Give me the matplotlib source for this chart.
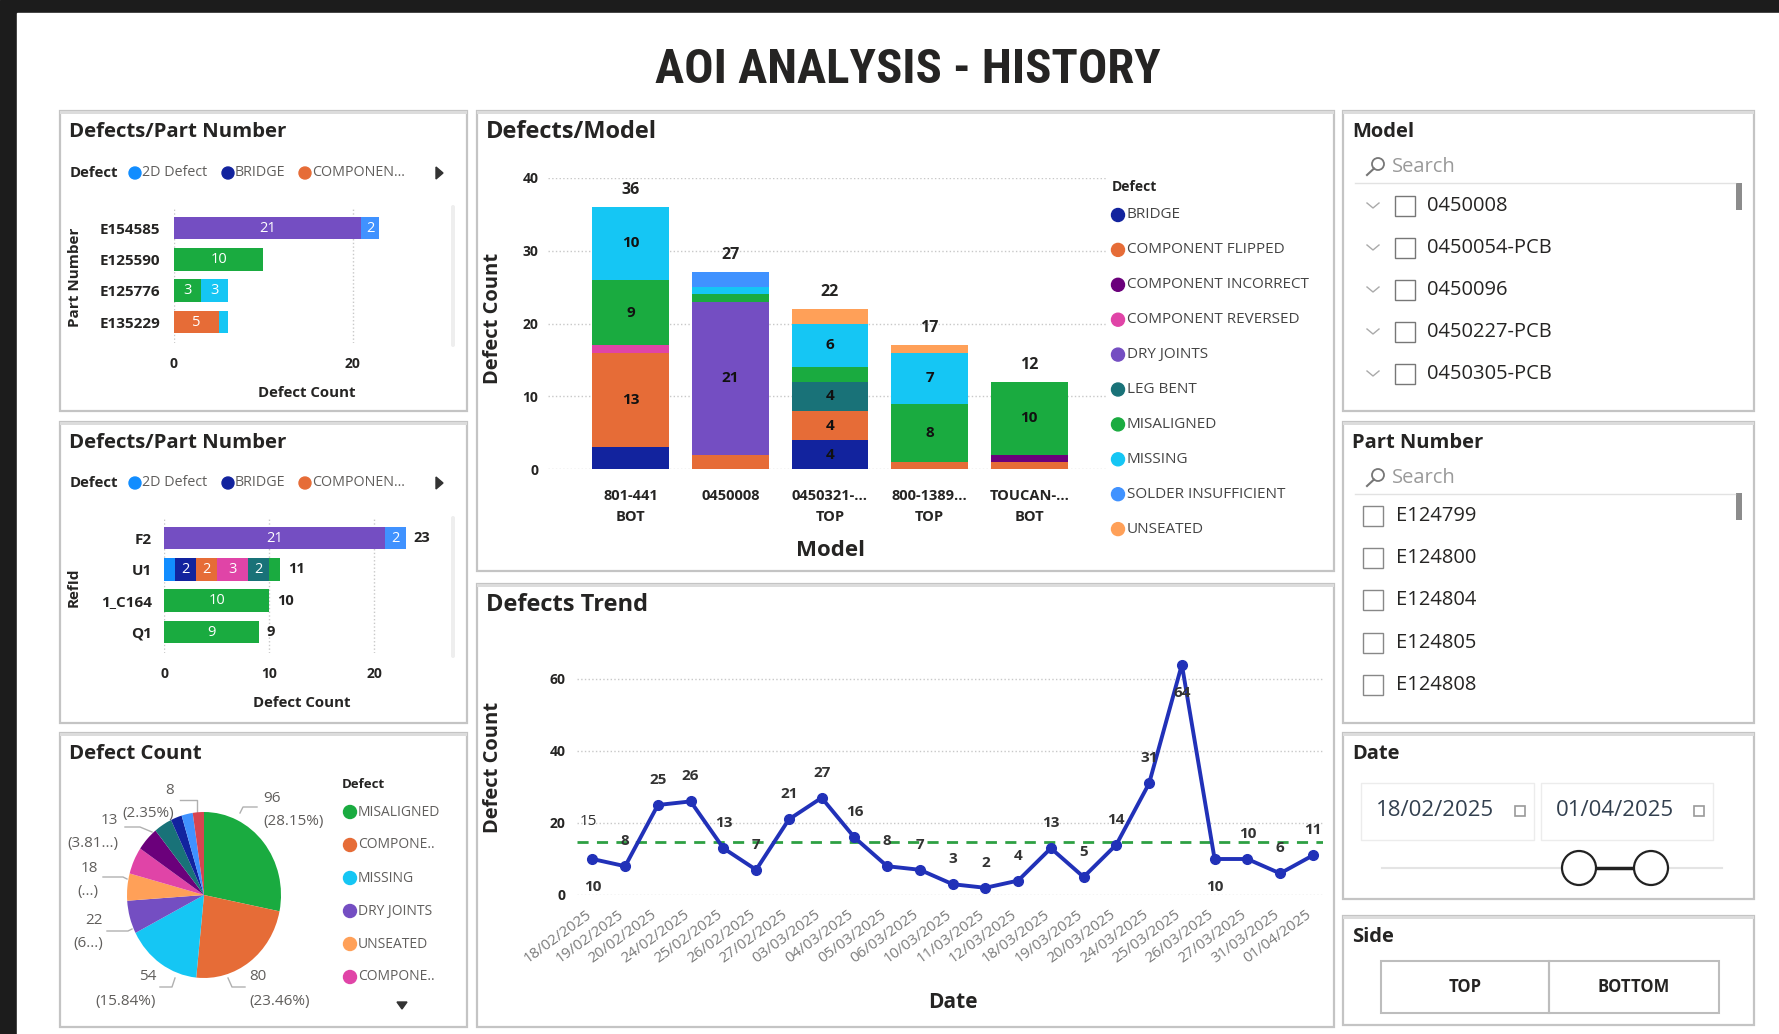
import numpy as np
import matplotlib
matplotlib.use("Agg")
import matplotlib.pyplot as plt
from matplotlib import font_manager as fm
from matplotlib.patches import Rectangle, Circle, Polygon, FancyBboxPatch
from matplotlib.transforms import ScaledTranslation

W, H = 1779, 1034
DPI = 100
plt.rcParams['font.family'] = ['Open Sans', 'DejaVu Sans']

# ---------------- data ----------------
title_text = "AOI ANALYSIS - HISTORY"

defect_names = ["BRIDGE", "COMPONENT FLIPPED", "COMPONENT INCORRECT", "COMPONENT REVERSED",
                "DRY JOINTS", "LEG BENT", "MISALIGNED", "MISSING", "SOLDER INSUFFICIENT", "UNSEATED"]
defect_colors = ["#12239E", "#E66C37", "#6B007B", "#E044A7", "#744EC2",
                 "#197278", "#1AAB40", "#15C6F4", "#4092FF", "#FFA058"]
color_2d = "#118DFF"

# Defects / Model (stacked columns)
models = ["801-441\nBOT", "0450008", "0450321-...\nTOP", "800-1389...\nTOP", "TOUCAN-...\nBOT"]
bridge_by_model = [3, 0, 4, 0, 0]
flipped_by_model = [13, 2, 4, 1, 1]
incorrect_by_model = [0, 0, 0, 0, 1]
reversed_by_model = [1, 0, 0, 0, 0]
dry_by_model = [0, 21, 0, 0, 0]
legbent_by_model = [0, 0, 4, 0, 0]
misaligned_by_model = [9, 1, 2, 8, 10]
missing_by_model = [10, 1, 6, 7, 0]
solder_by_model = [0, 2, 0, 0, 0]
unseated_by_model = [0, 0, 2, 1, 0]

# Defects / Part Number (panel 1)
part_numbers = ["E154585", "E125590", "E125776", "E135229"]
part_flipped = [0, 0, 0, 5]
part_dry = [21, 0, 0, 0]
part_misaligned = [0, 10, 3, 0]
part_missing = [0, 0, 3, 1]
part_solder = [2, 0, 0, 0]

# Defects / RefId (panel 2)
refids = ["F2", "U1", "1_C164", "Q1"]
ref_2d = [0, 1, 0, 0]
ref_bridge = [0, 2, 0, 0]
ref_flipped = [0, 2, 0, 0]
ref_reversed = [0, 3, 0, 0]
ref_dry = [21, 0, 0, 0]
ref_legbent = [0, 2, 0, 0]
ref_misaligned = [0, 1, 10, 9]
ref_solder = [2, 0, 0, 0]

# Pie: Defect Count
pie_defects = ["MISALIGNED", "COMPONENT FLIPPED", "MISSING", "DRY JOINTS", "UNSEATED",
               "COMPONENT REVERSED", "COMPONENT INCORRECT", "LEG BENT", "BRIDGE",
               "SOLDER INSUFFICIENT", "OTHER"]
pie_values = [96, 80, 54, 22, 18, 18, 16, 13, 8, 8, 8]
pie_colors = ["#1AAB40", "#E66C37", "#15C6F4", "#744EC2", "#FFA058", "#E044A7",
              "#6B007B", "#197278", "#12239E", "#4092FF", "#D64550"]
pie_legend_names = ["MISALIGNED", "COMPONE..", "MISSING", "DRY JOINTS", "UNSEATED", "COMPONE.."]

# Defects trend
trend_dates = ["18/02/2025", "19/02/2025", "20/02/2025", "24/02/2025", "25/02/2025", "26/02/2025",
               "27/02/2025", "03/03/2025", "04/03/2025", "05/03/2025", "06/03/2025", "10/03/2025",
               "11/03/2025", "12/03/2025", "18/03/2025", "19/03/2025", "20/03/2025", "24/03/2025",
               "25/03/2025", "26/03/2025", "27/03/2025", "31/03/2025", "01/04/2025"]
trend_counts = [10, 8, 25, 26, 13, 7, 21, 27, 16, 8, 7, 3, 2, 4, 13, 5, 14, 31, 64, 10, 10, 6, 11]

# Slicers
model_items = ["0450008", "0450054-PCB", "0450096", "0450227-PCB", "0450305-PCB"]
part_items = ["E124799", "E124800", "E124804", "E124805", "E124808"]
date_from = "18/02/2025"
date_to = "01/04/2025"
side_buttons = ["TOP", "BOTTOM"]

# ---------------- figure ----------------
fig = plt.figure(figsize=(W / DPI, H / DPI), dpi=DPI)
bg = fig.add_axes([0, 0, 1, 1])
bg.set_xlim(0, W)
bg.set_ylim(H, 0)
bg.axis('off')
bg.set_zorder(0)

DARK = "#252423"
GRAY = "#605E5C"

bg.add_patch(Rectangle((0, 0), W, H, color="#1c1c1c"))
bg.add_patch(Rectangle((17, 13), W - 17, H - 13, color="white"))


def T(x, y, s, **kw):
    kw.setdefault('color', DARK)
    kw.setdefault('va', 'center')
    return bg.text(x, y, s, **kw)


def ax_px(l, t, r, b):
    ax = fig.add_axes([l / W, 1 - b / H, (r - l) / W, (b - t) / H])
    ax.set_facecolor('none')
    for s in ax.spines.values():
        s.set_visible(False)
    ax.tick_params(length=0)
    ax.set_zorder(2)
    return ax


def panel(x0, y0, x1, y1, title, size=14.7):
    bg.add_patch(Rectangle((x0, y0), x1 - x0, y1 - y0, fill=False, ec="#c4c4c4", lw=1.6))
    bg.add_patch(Rectangle((x0, y0), x1 - x0, 3, color="#dcdcdc", lw=0))
    T(x0 + 9, y0 + 21, title, fontsize=size, fontweight='bold', ha='left')


# ---- Title with a condensed bold face if one is installed ----
def condensed_bold():
    best = None
    prefs = ['liberation sans narrow', 'roboto condensed', 'dejavu sans', 'open sans', 'noto sans']
    for f in fm.fontManager.ttflist:
        key = (f.name + ' ' + f.fname).lower()
        if not any(k in key for k in ('narrow', 'condensed')):
            continue
        w = f.weight if isinstance(f.weight, int) else (700 if 'bold' in str(f.weight) else 400)
        if w < 600 or 'italic' in key or 'oblique' in key:
            continue
        rank = next((i for i, p in enumerate(prefs) if f.name.lower().startswith(p)), 99)
        if best is None or rank < best[0]:
            best = (rank, f.fname)
    return best[1] if best else None


cfont = condensed_bold()
if cfont:
    tprops = fm.FontProperties(fname=cfont, size=36)
else:
    tprops = fm.FontProperties(family=['DejaVu Sans'], weight='bold', size=36)
ttl = T(908, 70, title_text, fontproperties=tprops, ha='center')
fig.canvas.draw()
tw = ttl.get_window_extent().width
tprops.set_size(36 * 505.0 / tw)
ttl.set_fontproperties(tprops)

# panels
panel(60, 111, 467, 411, "Defects/Part Number")
panel(60, 422, 467, 723, "Defects/Part Number")
panel(60, 733, 467, 1027, "Defect Count")
panel(477, 111, 1334, 571, "Defects/Model", size=17)
panel(477, 584, 1334, 1027, "Defects Trend", size=17)
panel(1343, 111, 1754, 411, "Model", size=14.5)
panel(1343, 422, 1754, 723, "Part Number", size=14.5)
panel(1343, 733, 1754, 899, "Date", size=14.5)
panel(1343, 916, 1754, 1025, "Side", size=14.5)


def legend_strip(y):
    T(70, y, "Defect", fontsize=10.8, fontweight='bold', ha='left')
    items = [(135, "2D Defect", color_2d), (228, "BRIDGE", "#12239E"), (305, "COMPONEN...", "#E66C37")]
    for cx, lab, col in items:
        bg.add_patch(Circle((cx, y), 6, color=col))
        T(cx + 7, y, lab, fontsize=10.3, color=GRAY, ha='left')
    bg.add_patch(Polygon([[436, y - 6], [436, y + 6], [443, y]], closed=True, color="#333333"))


def hbars(ax, labels, stacks, totals=False):
    y = np.arange(len(labels))
    left = np.zeros(len(labels))
    for vals, col in stacks:
        vals = np.array(vals, dtype=float)
        ax.barh(y, vals, left=left, color=col, height=0.72, zorder=3)
        for i, v in enumerate(vals):
            if v >= 2:
                ax.text(left[i] + v / 2, i, f"{int(v)}", color='white', ha='center', va='center',
                        fontsize=10.5, zorder=4)
        left += vals
    if totals:
        for i, t in enumerate(left):
            ax.annotate(f"{int(t)}", (t, i), xytext=(8, 0), textcoords='offset pixels',
                        ha='left', va='center', fontsize=10.5, fontweight='bold', color=DARK)
    ax.set_yticks(y)
    ax.set_yticklabels(labels, fontsize=11, fontweight='bold', color=DARK)
    ax.set_ylim(len(labels) - 0.33, -0.64)
    ax.set_axisbelow(True)
    ax.grid(axis='x', ls=':', color='#c8c8c8', lw=1)
    ax.grid(axis='y', visible=False)


# ---- Panel 1 ----
legend_strip(173)
ax1 = ax_px(174, 208, 390, 343)
hbars(ax1, part_numbers, [(part_flipped, defect_colors[1]), (part_dry, defect_colors[4]),
                          (part_misaligned, defect_colors[6]), (part_missing, defect_colors[7]),
                          (part_solder, defect_colors[8])])
ax1.set_xlim(0, 24.2)
ax1.set_xticks([0, 20])
ax1.tick_params(axis='x', pad=10, labelsize=10, labelcolor=DARK)
for lb in ax1.get_xticklabels():
    lb.set_fontweight('bold')
ax1.tick_params(axis='y', pad=10)
T(75, 277, "Part Number", fontsize=11, fontweight='bold', rotation=90, ha='center')
T(307, 393, "Defect Count", fontsize=10.8, fontweight='bold', ha='center')
bg.add_patch(FancyBboxPatch((451, 205), 4, 142, boxstyle="round,pad=0,rounding_size=2", color="#eeeeee", lw=0))

# ---- Panel 2 ----
legend_strip(483)
ax2 = ax_px(164.3, 518, 410, 653)
hbars(ax2, refids, [(ref_2d, color_2d), (ref_bridge, defect_colors[0]), (ref_flipped, defect_colors[1]),
                    (ref_reversed, defect_colors[3]), (ref_dry, defect_colors[4]),
                    (ref_legbent, defect_colors[5]), (ref_misaligned, defect_colors[6]),
                    (ref_solder, defect_colors[8])], totals=True)
ax2.set_xlim(0, 23.4)
ax2.set_xticks([0, 10, 20])
ax2.tick_params(axis='x', pad=10, labelsize=10, labelcolor=DARK)
for lb in ax2.get_xticklabels():
    lb.set_fontweight('bold')
ax2.tick_params(axis='y', pad=9)
T(74, 587, "RefId", fontsize=11, fontweight='bold', rotation=90, ha='center')
T(302, 703, "Defect Count", fontsize=10.8, fontweight='bold', ha='center')
bg.add_patch(FancyBboxPatch((451, 516), 4, 142, boxstyle="round,pad=0,rounding_size=2", color="#eeeeee", lw=0))

# ---- Pie ----
axp = ax_px(127, 812, 281, 978)
axp.pie(pie_values, colors=pie_colors, startangle=90, counterclock=False, radius=1,
        wedgeprops=dict(linewidth=0))
axp.set_aspect('auto')
axp.set_xlim(-1, 1)
axp.set_ylim(-1, 1)
total = sum(pie_values)
# (label index, x, y, align, truncation, leader polyline)
pie_label_layout = [
    (0, 263, 798, 'left', None, [(240, 813), (243, 807), (257, 807)]),
    (1, 249, 977, 'left', None, [(228, 978), (232, 987), (245, 987)]),
    (2, 156, 977, 'right', None, [(175, 978), (172, 987), (160, 987)]),
    (3, 103, 920, 'right', 2, [(132, 929), (128, 931), (107, 931)]),
    (4, 98, 868, 'right', 1, [(127, 879), (123, 877), (103, 877)]),
    (7, 118, 820, 'right', 5, [(152, 832), (140, 827), (125, 827)]),
    (10, 174, 790, 'right', None, [(197, 812), (197, 800), (180, 800)]),
]
for idx, lx, ly, al, trunc, leader in pie_label_layout:
    v = pie_values[idx]
    pct = f"({v / total * 100:.2f}%)"
    if trunc is not None:
        pct = pct[:trunc] + "...)"
    T(lx, ly, f"{v}", fontsize=11, color=GRAY, ha=al)
    T(lx, ly + 24, pct, fontsize=11, color=GRAY, ha=al)
    xs, ys = zip(*leader)
    bg.plot(xs, ys, color="#b0b0b0", lw=1)
T(342, 785, "Defect", fontsize=9.5, fontweight='bold', ha='left')
for i, name in enumerate(pie_legend_names):
    yy = 812 + i * 33
    bg.add_patch(Circle((350, yy), 6.5, color=pie_colors[i]))
    T(358, yy, name, fontsize=10, color=GRAY, ha='left')
bg.add_patch(Polygon([[397, 1002], [407, 1002], [402, 1009]], closed=True, color="#333333"))

# ---- Defects / Model ----
axm = ax_px(548, 177.7, 1107, 469.3)
by_model = [bridge_by_model, flipped_by_model, incorrect_by_model, reversed_by_model, dry_by_model,
            legbent_by_model, misaligned_by_model, missing_by_model, solder_by_model, unseated_by_model]
xm = np.arange(len(models))
bottom = np.zeros(len(models))
for vals, col in zip(by_model, defect_colors):
    vals = np.array(vals, dtype=float)
    axm.bar(xm, vals, bottom=bottom, color=col, width=0.77, zorder=3)
    for i, v in enumerate(vals):
        if v >= 4:
            axm.text(xm[i], bottom[i] + v / 2, f"{int(v)}", ha='center', va='center',
                     fontsize=11, fontweight='bold', color='#111111', zorder=4)
    bottom += vals
for i, t in enumerate(bottom):
    axm.annotate(f"{int(t)}", (xm[i], t), xytext=(0, 17), textcoords='offset pixels',
                 ha='center', va='center', fontsize=11.5, fontweight='bold', color=DARK)
axm.set_xlim(-0.83, 4.78)
axm.set_ylim(0, 40)
axm.set_yticks([0, 10, 20, 30, 40])
axm.set_xticks(xm)
axm.set_xticklabels(models, fontsize=10.5, fontweight='bold', color=DARK, linespacing=1.7)
axm.tick_params(axis='x', pad=14)
axm.tick_params(axis='y', pad=7, labelsize=10, labelcolor=DARK)
for lb in axm.get_yticklabels():
    lb.set_fontweight('bold')
axm.set_axisbelow(True)
axm.grid(axis='y', ls=':', color='#c8c8c8', lw=1)
T(493, 318, "Defect Count", fontsize=14.5, fontweight='bold', rotation=90, ha='center')
T(831, 550, "Model", fontsize=16, fontweight='bold', ha='center')
T(1112, 187, "Defect", fontsize=10, fontweight='bold', ha='left')
for i, (name, col) in enumerate(zip(defect_names, defect_colors)):
    yy = 215 + i * 34.9
    bg.add_patch(Circle((1118, yy), 6.5, color=col))
    T(1127, yy, name, fontsize=11, color="#444444", ha='left')

# ---- Defects Trend ----
axt = ax_px(577, 643, 1323, 895)
xt = np.arange(len(trend_dates))
axt.plot(xt, trend_counts, color="#2131B8", lw=2.8, marker='o', ms=7, zorder=4)
avg = np.mean(trend_counts)
axt.axhline(avg, color="#2EA043", ls=(0, (4, 3)), lw=2, zorder=3)
axt.annotate(f"{avg:.0f}", (0, avg), xytext=(-4, 20), textcoords='offset pixels',
             ha='center', va='center', fontsize=11, color="#333333")
below = {0, 18, 19}
for i, v in enumerate(trend_counts):
    dy = -28 if i in below else 25
    axt.annotate(f"{v}", (xt[i], v), xytext=(0, dy), textcoords='offset pixels',
                 ha='center', va='center', fontsize=11, fontweight='bold', color="#333333", zorder=5)
axt.set_xlim(-0.47, 22.31)
axt.set_ylim(0, 70)
axt.set_yticks([0, 20, 40, 60])
axt.tick_params(axis='y', pad=8, labelsize=10, labelcolor=DARK)
for lb in axt.get_yticklabels():
    lb.set_fontweight('bold')
axt.set_xticks(xt)
axt.set_xticklabels(trend_dates, rotation=36, ha='right', va='top', rotation_mode='anchor',
                    fontsize=10.8, color="#7a7a7a")
axt.tick_params(axis='x', pad=9)
off = ScaledTranslation(-7 / DPI, 0, fig.dpi_scale_trans)
for lb in axt.get_xticklabels():
    lb.set_transform(lb.get_transform() + off)
axt.set_axisbelow(True)
axt.grid(axis='y', ls=':', color='#c8c8c8', lw=1)
T(493, 767, "Defect Count", fontsize=14.5, fontweight='bold', rotation=90, ha='center')
T(953, 1003, "Date", fontsize=15, fontweight='bold', ha='center')


# ---- Slicers ----
def search_row(y):
    bg.add_patch(Circle((1378, y - 3), 6, fill=False, ec="#777777", lw=1.3))
    bg.plot([1374, 1367], [y + 1.5, y + 8], color="#777777", lw=1.5)
    T(1392, y, "Search", fontsize=14.5, color="#9a9a9a", ha='left')
    bg.plot([1355, 1735], [y + 16, y + 16], color="#e2e2e2", lw=1)


search_row(167)
bg.add_patch(Rectangle((1736, 183), 6, 27, color="#8c8c8c", lw=0))
for i, it in enumerate(model_items):
    yy = 206 + i * 42
    bg.plot([1367, 1373, 1379], [yy - 3, yy + 2, yy - 3], color="#aaaaaa", lw=1)
    bg.add_patch(Rectangle((1395, yy - 10), 20, 20, fill=False, ec="#777777", lw=1))
    T(1427, yy, it, fontsize=14.5, color=DARK, ha='left')

search_row(478)
bg.add_patch(Rectangle((1736, 493), 6, 27, color="#8c8c8c", lw=0))
for i, it in enumerate(part_items):
    yy = 516 + i * 42.2
    bg.add_patch(Rectangle((1363, yy - 10), 20, 20, fill=False, ec="#888888", lw=1))
    T(1396, yy, it, fontsize=14.5, color=DARK, ha='left')

# Date
for (x0, x1, txt) in [(1361, 1534, date_from), (1541, 1713, date_to)]:
    bg.add_patch(Rectangle((x0, 783), x1 - x0, 57, fill=False, ec="#ececec", lw=1))
    T(x0 + 15, 811, txt, fontsize=16, color="#33404f", ha='left')
    bg.add_patch(Rectangle((x1 - 19, 806), 10, 10, fill=False, ec="#9a9a9a", lw=1.2))
bg.plot([1382, 1722], [868, 868], color="#e4e4e4", lw=1.5)
bg.plot([1579, 1651], [868, 868], color="#222222", lw=2.5)
for cx in (1579, 1651):
    bg.add_patch(Circle((cx, 868), 17, fc='white', ec="#222222", lw=1.6, zorder=5))

# Side
for (x0, x1), lab in zip([(1381, 1549), (1549, 1719)], side_buttons):
    bg.add_patch(Rectangle((x0, 961), x1 - x0, 52, fill=False, ec="#bdbdbd", lw=1.5))
    T((x0 + x1) / 2, 987, lab, fontsize=12, fontweight='bold', ha='center')

fig.savefig("out.png", dpi=DPI)
